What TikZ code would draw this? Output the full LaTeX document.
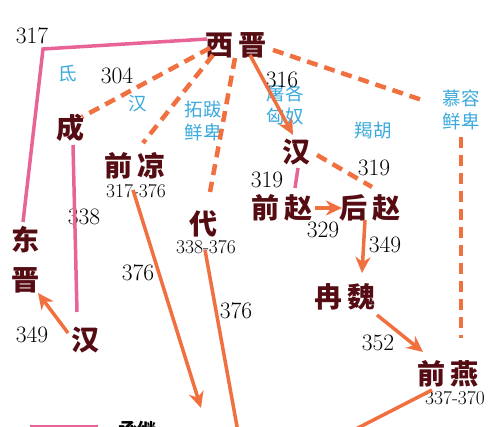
\documentclass[tikz,border=0pt]{standalone}
\usepackage{fontspec}
\newfontfamily\cjk{Noto Sans CJK SC}
\usetikzlibrary{arrows.meta}
\definecolor{maroon}{RGB}{85,12,18}
\definecolor{orng}{RGB}{240,112,64}
\definecolor{pnk}{RGB}{232,100,150}
\definecolor{cyn}{RGB}{60,170,220}
\begin{document}
\begin{tikzpicture}[x=1pt,y=-1pt,
 state/.style={font=\cjk\bfseries\fontsize{28}{40}\selectfont, text=maroon, inner sep=0pt, align=center},
 tribe/.style={font=\cjk\fontsize{18.5}{23}\selectfont, text=cyn, align=center, inner sep=0pt},
 yr/.style={font=\fontsize{23.5}{24}\selectfont, inner sep=0pt},
 span/.style={font=\fontsize{19.5}{20}\selectfont, inner sep=0pt},
 sol/.style={draw=orng, line width=3.5pt, -{Stealth[length=16pt,width=15pt,inset=5pt]}},
 solplain/.style={draw=orng, line width=3.5pt},
 dsh/.style={draw=orng, line width=4.5pt, dash pattern=on 11pt off 7pt},
 pk/.style={draw=pnk, line width=3.5pt}]
\useasboundingbox (0,0) rectangle (500,427);
\clip (0,0) rectangle (500,427);
\fill[white] (0,0) rectangle (500,427);

% states
\node[state] (xj) at (236,45) {西\,晋};
\node[state] (cheng) at (70,128) {成};
\node[state] (qianliang) at (135,166) {前\,凉};
\node[span] (qlyr) at (136,191) {317-376};
\node[state] (dai) at (203,224) {代};
\node[span] (daiyr) at (206,247) {338-376};
\node[state] (hanR) at (296,152) {汉};
\node[state] (qz) at (282,208) {前\,赵};
\node[state] (hz) at (370,208) {后\,赵};
\node[state] (rw) at (345,297) {冉\,魏};
\node[state] (qy) at (448,374) {前\,燕};
\node[span] (qyyr) at (455,398) {337-370};
\node[state] (dj) at (26,260) {东\\晋};
\node[state] (hanL) at (85,340) {汉};

% tribes
\node[tribe] (di) at (68,74) {氐};
\node[tribe] (hanT) at (138,104) {汉};
\node[tribe] (tuoba) at (203,121) {拓跋\\鲜卑};
\node[tribe] (tuge) at (285,105) {屠各\\匈奴};
\node[tribe] (jie) at (373,130) {羯胡};
\node[tribe] (murong) at (461,110) {慕容\\鲜卑};

% years
\node[yr] (y317) at (32,36) {317};
\node[yr] (y304) at (117,76) {304};
\node[yr] (y316) at (282,80) {316};
\node[yr] (y338) at (84,217) {338};
\node[yr] (y376a) at (138,273) {376};
\node[yr] (y376b) at (236,311) {376};
\node[yr] (y319a) at (374,168) {319};
\node[yr] (y319b) at (267,180) {319};
\node[yr] (y329) at (323,230) {329};
\node[yr] (y349a) at (385,245) {349};
\node[yr] (y352) at (378,343) {352};
\node[yr] (y349b) at (32,335) {349};

% endpoint coordinates
\coordinate (p1) at (207,39);
\coordinate (p2) at (43,49);
\coordinate (p3) at (23,222);
\coordinate (c1) at (73,145);
\coordinate (c2) at (77,312);
\coordinate (h1) at (298,168);
\coordinate (h2) at (295,188);
\coordinate (d1a) at (210,48);  \coordinate (d1b) at (82,117);
\coordinate (d2a) at (213,55);  \coordinate (d2b) at (143,143);
\coordinate (d3a) at (235,58);  \coordinate (d3b) at (210,192);
\coordinate (d4a) at (273,50);  \coordinate (d4b) at (422,100);
\coordinate (d5a) at (461,137); \coordinate (d5b) at (461,338);
\coordinate (d6a) at (317,155); \coordinate (d6b) at (372,187);
\coordinate (s1a) at (250,55);  \coordinate (s1b) at (293,135);
\coordinate (s2a) at (133,190); \coordinate (s2b) at (201,408);
\coordinate (s3a) at (205,250); \coordinate (s3b) at (238,432);
\coordinate (s4a) at (315,208); \coordinate (s4b) at (342,208);
\coordinate (s5a) at (365,220); \coordinate (s5b) at (362,273);
\coordinate (s6a) at (377,315); \coordinate (s6b) at (423,352);
\coordinate (s7a) at (432,390); \coordinate (s7b) at (350,432);
\coordinate (s8a) at (68,333);  \coordinate (s8b) at (38,293);

% pink succession lines
\draw[pk] (p1) -- (p2) -- (p3);
\draw[pk] (c1) -- (c2);
\draw[pk] (h1) -- (h2);

% dashed
\draw[dsh] (d1a) -- (d1b);
\draw[dsh] (d2a) -- (d2b);
\draw[dsh] (d3a) -- (d3b);
\draw[dsh] (d4a) -- (d4b);
\draw[dsh] (d5a) -- (d5b);
\draw[dsh] (d6a) -- (d6b);

% solid
\draw[sol] (s1a) -- (s1b);
\draw[sol] (s2a) -- (s2b);
\draw[solplain] (s3a) -- (s3b);
\draw[sol] (s4a) -- (s4b);
\draw[sol] (s5a) -- (s5b);
\draw[sol] (s6a) -- (s6b);
\draw[solplain] (s7a) -- (s7b);
\draw[sol] (s8a) -- (s8b);

% legend
\fill[pnk] (30,425) rectangle (98,432);
\node[font=\cjk\bfseries\fontsize{19}{20}\selectfont, inner sep=0pt] (leg) at (137,430) {承继};
\end{tikzpicture}
\end{document}
